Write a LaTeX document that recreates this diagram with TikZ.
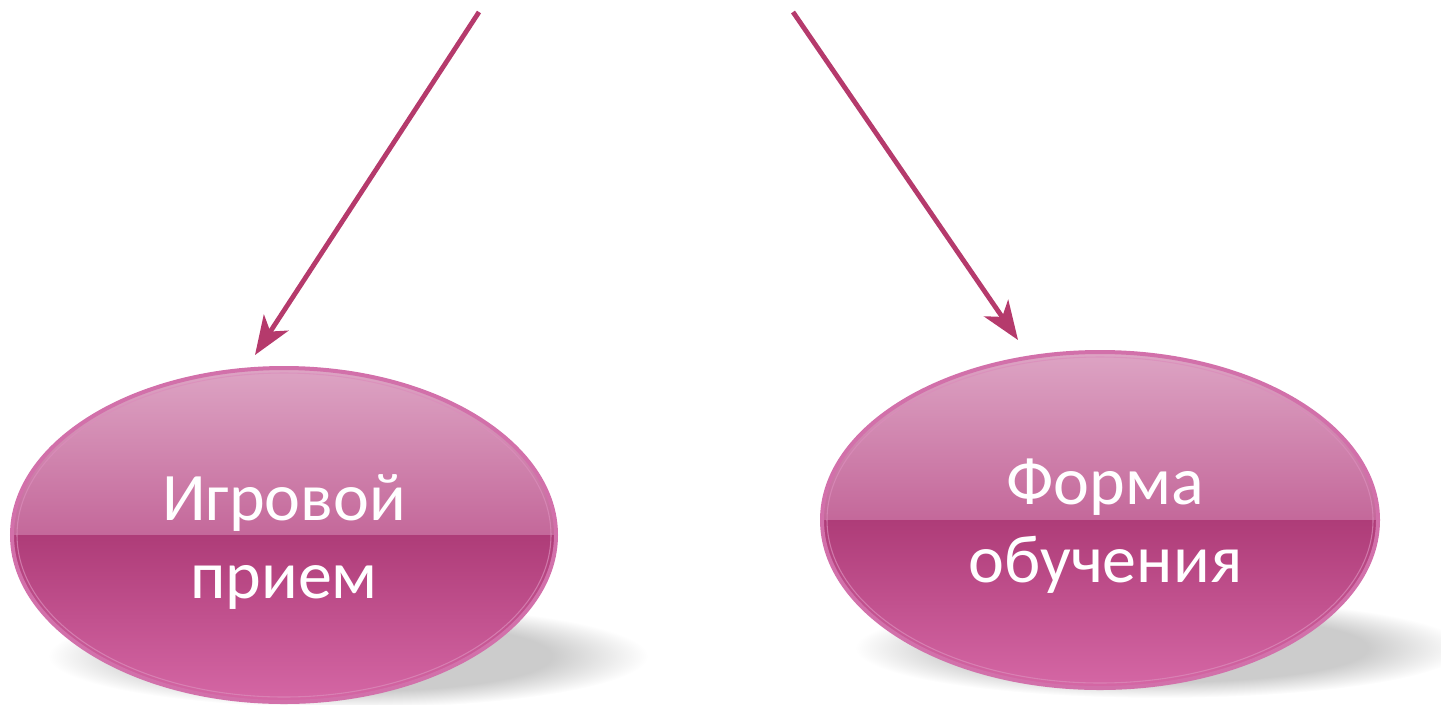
\documentclass[tikz,border=0pt]{standalone}
\usepackage{fontspec}
\setmainfont{Carlito}
\usetikzlibrary{arrows.meta,shapes.geometric}

\definecolor{pointerpink}{RGB}{181,58,108}
\definecolor{ovaledge}{RGB}{210,112,170}
\definecolor{ovalhigh}{RGB}{221,164,196}
\definecolor{ovalmid}{RGB}{196,104,154}
\definecolor{ovaldeep}{RGB}{174,60,120}
\definecolor{ovallow}{RGB}{213,103,165}
\pgfdeclareradialshading{softshadow}{\pgfpoint{0bp}{0bp}}{color(0bp)=(gray!40); color(17bp)=(gray!40); color(25bp)=(white); color(50bp)=(white)}

\tikzset{every picture/.style={line width=0.75pt}}
\tikzset{
	oval top/.style={top color=ovalhigh, bottom color=ovalmid},
	oval bottom/.style={top color=ovaldeep, bottom color=ovallow},
	oval/.style={ellipse, draw=ovaledge, line width=3pt, inner sep=0pt},
	oval text/.style={text=white, align=center, font=\fontsize{51}{58.5}\selectfont},
	pointer/.style={draw=pointerpink, line width=3.6pt, -{Stealth[length=29pt,width=22pt,inset=8pt]}}
}

\begin{document}
\begin{tikzpicture}[x=0.75pt,y=0.75pt,yscale=-1,xscale=1]
	\useasboundingbox (0,0) rectangle (1441,704);

	%Shape: Shadow
	\shade [shading=softshadow] (348,656) ellipse [x radius=300, y radius=52];
	\shade [shading=softshadow] (1160,648) ellipse [x radius=305, y radius=50];

	%Shape: Ellipse (left)
	\begin{scope}
		\clip (284,535) ellipse [x radius=272, y radius=167];
		\fill [oval top] (12,368) rectangle (556,535);
		\fill [oval bottom] (12,535) rectangle (556,702);
	\end{scope}
	\draw [ovaledge!80!white, line width=0.8pt, opacity=0.7] (284,535) ellipse [x radius=267, y radius=162];
	\node [oval, minimum width=408pt, minimum height=250.5pt] (igra) at (284,535) {};

	%Shape: Ellipse (right)
	\begin{scope}
		\clip (1100,520) ellipse [x radius=278, y radius=168];
		\fill [oval top] (822,352) rectangle (1378,520);
		\fill [oval bottom] (822,520) rectangle (1378,688);
	\end{scope}
	\draw [ovaledge!80!white, line width=0.8pt, opacity=0.7] (1100,520) ellipse [x radius=273, y radius=163];
	\node [oval, minimum width=417pt, minimum height=252pt] (forma) at (1100,520) {};

	%Straight Lines
	\coordinate (igrastart) at (479,12);
	\coordinate (igratip) at (255,355);
	\draw [pointer] (igrastart) -- (igratip);
	%Straight Lines
	\coordinate (formastart) at (793,12);
	\coordinate (formatip) at (1018,340);
	\draw [pointer] (formastart) -- (formatip);

	% Text Node
	\node [oval text] (igratxt) at ([yshift=5pt]igra.center) {Игровой\\прием};
	% Text Node
	\node [oval text] (formatxt) at ([xshift=4pt,yshift=4.5pt]forma.center) {Форма\\обучения};

\end{tikzpicture}
\end{document}
